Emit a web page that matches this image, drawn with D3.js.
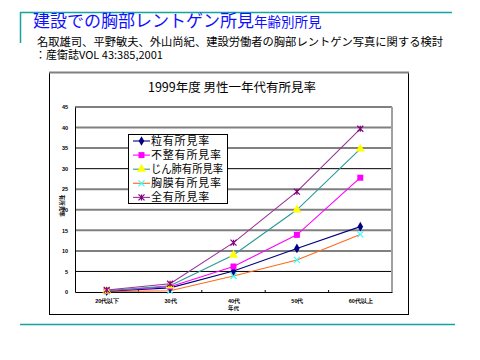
<!DOCTYPE html>
<html lang="ja">
<head>
<meta charset="utf-8" />
<title>建設での胸部レントゲン所見</title>
<script src="https://cdn.jsdelivr.net/npm/d3@7"></script>
<style>
  body { margin: 0; background: #fff; }
  svg { display: block; font-family: "Noto Sans CJK JP", "Noto Sans", sans-serif; }
</style>
</head>
<body>
<div id="chart"></div>
<script>
// categories and series
const ageGroups = ["20代以下", "30代", "40代", "50代", "60代以上"];
const seriesNames = ["粒有所見率", "不整有所見率", "じん肺有所見率", "胸膜有所見率", "全有所見率"];
const granular  = [0.2, 1.0, 5.1, 10.6, 15.9];
const irregular = [0.3, 1.3, 6.2, 13.9, 27.8];
const pneumo    = [0.3, 1.5, 9.0, 20.0, 34.8];
const pleural   = [0.1, 0.3, 3.9, 7.8, 14.0];
const total     = [0.5, 2.0, 12.0, 24.4, 39.7];
const yTicks = [0, 5, 10, 15, 20, 25, 30, 35, 40, 45];

const lineColors   = ["#000080", "#ff00ff", "#2a9a9a", "#ff6a1a", "#993399"];
const markColors   = ["#000080", "#ff00ff", "#ffff00", "#33ffff", "#800080"];
const markTypes    = ["diamond", "square", "triangle", "cross", "star"];
const seriesValues = [granular, irregular, pneumo, pleural, total];

const W = 480, H = 360;
const svg = d3.select("#chart").append("svg").attr("width", W).attr("height", H);

// slide frame in teal
const teal = "#14a3a3";
svg.append("line").attr("x1", 20).attr("x2", 452).attr("y1", 12.5).attr("y2", 12.5)
  .attr("stroke", teal).attr("stroke-width", 1.5);
svg.append("line").attr("x1", 20.5).attr("x2", 20.5).attr("y1", 12).attr("y2", 43)
  .attr("stroke", teal).attr("stroke-width", 1.5);
svg.append("line").attr("x1", 20).attr("x2", 455).attr("y1", 324.5).attr("y2", 324.5)
  .attr("stroke", teal).attr("stroke-width", 1.5);

// header text
const head = svg.append("text").attr("x", 33).attr("y", 27).attr("fill", "#1010ff");
head.append("tspan").attr("font-size", 17).text("建設での胸部レントゲン所見");
head.append("tspan").attr("font-size", 13.5).text("年齢別所見");
svg.append("text").attr("x", 37).attr("y", 46).attr("font-size", 11)
  .attr("textLength", 406).attr("lengthAdjust", "spacingAndGlyphs")
  .text("名取雄司、平野敏夫、外山尚紀、建設労働者の胸部レントゲン写真に関する検討");
svg.append("text").attr("x", 35).attr("y", 59).attr("font-size", 11)
  .text("：産衛誌VOL 43:385,2001");

// outer chart box
svg.append("rect").attr("x", 49.5).attr("y", 72.5).attr("width", 359).attr("height", 242)
  .attr("fill", "#fff").attr("stroke", "#000").attr("stroke-width", 1);
svg.append("line").attr("x1", 49).attr("x2", 409).attr("y1", 72.5).attr("y2", 72.5)
  .attr("stroke", "#808080").attr("stroke-width", 2);

svg.append("text").attr("x", 232).attr("y", 92).attr("text-anchor", "middle")
  .attr("font-size", 12.5).text("1999年度  男性一年代有所見率");

// plot area
const plot = { left: 75, right: 392, top: 107, bottom: 292 };
const x = d3.scalePoint().domain(ageGroups).range([plot.left, plot.right]).padding(0.5);
const y = d3.scaleLinear().domain([0, 45]).range([plot.bottom, plot.top]);

// gridlines
svg.append("g").selectAll("line").data(yTicks.filter(d => d > 0)).join("line")
  .attr("x1", plot.left).attr("x2", plot.right)
  .attr("y1", d => y(d)).attr("y2", d => y(d))
  .attr("stroke", d => (d === 5 || d === 30) ? "#000" : "#808080")
  .attr("stroke-width", d => (d === 5 || d === 30) ? 1 : 2);
svg.append("line").attr("x1", plot.right).attr("x2", plot.right).attr("y1", plot.top).attr("y2", plot.bottom)
  .attr("stroke", "#a0a0a0").attr("stroke-width", 2);

// axes
const yAxis = d3.axisLeft(y).tickValues(yTicks).tickSize(0).tickPadding(7);
const gy = svg.append("g").attr("transform", `translate(${plot.left},0)`).call(yAxis);
gy.select(".domain").attr("stroke", "#000");
gy.selectAll("text").attr("font-size", 5.5).attr("font-weight", "bold")
  .attr("font-family", "Arial, Liberation Sans, sans-serif");

const xAxis = d3.axisBottom(x).tickSize(0).tickPadding(7);
const gx = svg.append("g").attr("transform", `translate(0,${plot.bottom})`).call(xAxis);
gx.select(".domain").attr("stroke", "#000");
gx.selectAll("text").attr("font-size", 5.5).attr("font-weight", "bold");
// small category boundary ticks
const step = x.step();
svg.append("g").selectAll("line").data(ageGroups.slice(1)).join("line")
  .attr("x1", d => x(d) - step / 2).attr("x2", d => x(d) - step / 2)
  .attr("y1", plot.bottom - 2).attr("y2", plot.bottom)
  .attr("stroke", "#000");

svg.append("text").attr("x", x("40代")).attr("y", 310).attr("text-anchor", "middle")
  .attr("font-size", 5.5).attr("font-weight", "bold").text("年代");
svg.append("text").attr("transform", `translate(60,${y(21)}) rotate(90)`)
  .attr("text-anchor", "middle").attr("font-size", 5.5).attr("font-weight", "bold")
  .text("有所見率");

// markers
function drawMark(g, type, color, s) {
  if (type === "diamond") {
    g.append("path").attr("d", d3.symbol(d3.symbolDiamond, s * 4.5)()).attr("fill", color);
  } else if (type === "square") {
    g.append("rect").attr("x", -s / 2).attr("y", -s / 2).attr("width", s).attr("height", s).attr("fill", color);
  } else if (type === "triangle") {
    g.append("path").attr("d", d3.symbol(d3.symbolTriangle, s * 6)()).attr("fill", color);
  } else if (type === "cross") {
    g.append("path").attr("d", `M${-s/2},${-s/2}L${s/2},${s/2}M${-s/2},${s/2}L${s/2},${-s/2}`)
      .attr("stroke", color).attr("stroke-width", 1.2);
  } else {
    g.append("path").attr("d", `M${-s/2},${-s/2}L${s/2},${s/2}M${-s/2},${s/2}L${s/2},${-s/2}M0,${-s/2}L0,${s/2}`)
      .attr("stroke", color).attr("stroke-width", 1.2);
  }
}

const line = d3.line().x((d, i) => x(ageGroups[i])).y(d => y(d));
const order = [3, 0, 1, 2, 4];
order.forEach(k => {
  svg.append("path").datum(seriesValues[k]).attr("d", line)
    .attr("fill", "none").attr("stroke", lineColors[k]).attr("stroke-width", 1.1);
});
order.forEach(k => {
  seriesValues[k].forEach((v, i) => {
    const g = svg.append("g").attr("transform", `translate(${x(ageGroups[i])},${y(v)})`);
    drawMark(g, markTypes[k], markColors[k], 6);
  });
});

// legend
const lg = svg.append("g");
lg.append("rect").attr("x", 128.5).attr("y", 134.5).attr("width", 99).attr("height", 69)
  .attr("fill", "#fff").attr("stroke", "#000");
seriesNames.forEach((name, k) => {
  const cy = 141 + k * 14.1;
  lg.append("line").attr("x1", 133).attr("x2", 150).attr("y1", cy).attr("y2", cy)
    .attr("stroke", lineColors[k]).attr("stroke-width", 1.1);
  drawMark(lg.append("g").attr("transform", `translate(141.5,${cy})`), markTypes[k], markColors[k], 6);
  const t = lg.append("text").attr("x", 151).attr("y", cy + 4).attr("font-size", 11)
    .attr("letter-spacing", 0.8).text(name);
  if (t.node().getComputedTextLength() > 72) {
    t.attr("letter-spacing", null).attr("textLength", 72).attr("lengthAdjust", "spacingAndGlyphs");
  }
});
</script>
</body>
</html>
